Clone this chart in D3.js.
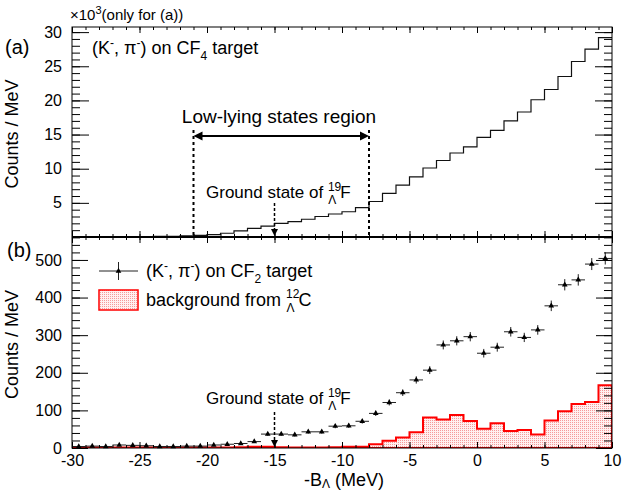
<!DOCTYPE html>
<html>
<head>
<meta charset="utf-8">
<script src="https://cdn.jsdelivr.net/npm/d3@7"></script>
<style>
body { margin: 0; background: #fff; }
text { font-family: "Liberation Sans", Arial, Helvetica, sans-serif; fill: #000; }
</style>
</head>
<body>
<script>
// bin low edges, 1 MeV bins
var binLow = [-30,-29,-28,-27,-26,-25,-24,-23,-22,-21,-20,-19,-18,-17,-16,-15,-14,-13,-12,-11,
              -10,-9,-8,-7,-6,-5,-4,-3,-2,-1,0,1,2,3,4,5,6,7,8,9];
// (a) CF4 spectrum, x10^3 counts / MeV
var cf4Counts = [0.03,0.03,0.04,0.04,0.05,0.06,0.08,0.1,0.18,0.25,0.35,0.55,0.9,1.27,1.6,2.0,2.25,2.6,3.0,3.37,
                 3.7,4.3,5.2,6.4,7.6,8.8,10.1,11.2,12.3,13.2,14.6,15.6,17.0,18.3,20.1,21.6,23.5,25.7,27.5,29.2];
// (b) CF2 spectrum, counts / MeV
var cf2Counts = [4,5,4,8,7,6,4,4,5,5,8,10,12,17,37,37,35,43,43,58,
                 59,71,92,121,147,181,207,274,285,296,252,268,309,294,314,378,434,447,489,504];
var cf2Errors = [1.4,1.6,1.4,2,1.9,1.8,1.4,1.4,1.6,1.6,2,2.3,2.5,3,4.4,4.4,4.3,4.7,4.7,5.5,
                 5.5,6.1,6.9,7.9,8.7,9.7,10.4,11.9,12.2,12.4,11.4,11.8,12.7,12.3,12.8,14,15,15.2,15.9,16.2];
// background from 12C (Lambda)
var bgCounts = [1,1,1,1,1.5,1.5,1,1,1,1,1.5,1.5,2,3,3.5,2,1.5,1.5,1.5,2,
                3,3.5,10,19,28,42,81,76,88,72,51,66,45,48,36,73,98,117,122,167];

var xTicks = [-30,-25,-20,-15,-10,-5,0,5,10];
var topTicks = [5,10,15,20,25,30];
var botTicks = [0,100,200,300,400,500];

var width = 623, height = 491;
var pLeft = 72, pRight = 612, pTop = 27, pMid = 237, pBot = 448;

var svg = d3.select("body").append("svg")
            .attr("width", width)
            .attr("height", height);

var x = d3.scaleLinear().domain([-30, 10]).range([pLeft, pRight]);
var yTop = d3.scaleLinear().domain([0, 30.75]).range([pMid, pTop]);
var yBot = d3.scaleLinear().domain([0, 561]).range([pBot, pMid]);

// dotted pink fill
var defs = svg.append("defs");
var pat = defs.append("pattern").attr("id", "dots")
   .attr("width", 2).attr("height", 2).attr("patternUnits", "userSpaceOnUse");
pat.append("rect").attr("width", 2).attr("height", 2).attr("fill", "#fff0f0");
pat.append("rect").attr("width", 1).attr("height", 1).attr("fill", "#f59a9a");
defs.append("clipPath").attr("id", "clipBot").append("rect")
   .attr("x", pLeft).attr("y", pMid).attr("width", pRight - pLeft).attr("height", pBot - pMid);

// step data: each bin plus closing edge at 10
function steps(vals) {
    var d = binLow.map(function(b, i) { return {x: b, y: vals[i]}; });
    d.push({x: 10, y: vals[vals.length - 1]});
    return d;
}

// ---- (a) histogram
svg.append("path")
   .datum(steps(cf4Counts))
   .attr("fill", "none")
   .attr("stroke", "#111")
   .attr("stroke-width", 1.2)
   .attr("d", d3.line().curve(d3.curveStepAfter)
        .x(function(d) { return x(d.x); })
        .y(function(d) { return yTop(d.y); }));

// ---- (b) background histogram
var bgArea = d3.area().curve(d3.curveStepAfter)
   .x(function(d) { return x(d.x); })
   .y0(yBot(0))
   .y1(function(d) { return yBot(d.y); });
svg.append("path")
   .datum(steps(bgCounts))
   .attr("clip-path", "url(#clipBot)")
   .attr("fill", "url(#dots)")
   .attr("stroke", "#ff0000")
   .attr("stroke-width", 2)
   .attr("d", bgArea);

// ---- (b) data points with error bars
var pts = svg.append("g");
binLow.forEach(function(b, i) {
    var cx = x(b + 0.5), cy = yBot(cf2Counts[i]);
    pts.append("line").attr("x1", x(b)).attr("x2", x(b + 1)).attr("y1", cy).attr("y2", cy)
       .attr("stroke", "#222").attr("stroke-width", 1);
    pts.append("line").attr("x1", cx).attr("x2", cx)
       .attr("y1", yBot(cf2Counts[i] - cf2Errors[i])).attr("y2", yBot(cf2Counts[i] + cf2Errors[i]))
       .attr("stroke", "#222").attr("stroke-width", 1);
    pts.append("path").attr("d", d3.symbol(d3.symbolTriangle, 14)())
       .attr("transform", "translate(" + cx + "," + cy + ")")
       .attr("fill", "#000");
});

// ---- frame and axes
function styleAxis(g) {
    g.select(".domain").remove();
    g.selectAll("line").attr("stroke", "#000");
    g.selectAll("text").attr("font-size", 16).attr("font-family", "Liberation Sans, Arial, sans-serif");
}
function minors(lo, hi, step) {
    var out = [];
    for (var v = lo; v <= hi + 1e-9; v += step) out.push(v);
    return out;
}

// left axes
svg.append("g").attr("transform", "translate(" + pLeft + ",0)")
   .call(d3.axisLeft(yTop).tickValues(topTicks).tickSize(-17).tickPadding(10)).call(styleAxis);
svg.append("g").attr("transform", "translate(" + pLeft + ",0)")
   .call(d3.axisLeft(yTop).tickValues(minors(1, 30, 1)).tickSize(-8).tickFormat("")).call(styleAxis);
svg.append("g").attr("transform", "translate(" + pLeft + ",0)")
   .call(d3.axisLeft(yBot).tickValues(botTicks).tickSize(-16).tickPadding(10)).call(styleAxis);
svg.append("g").attr("transform", "translate(" + pLeft + ",0)")
   .call(d3.axisLeft(yBot).tickValues(minors(20, 560, 20)).tickSize(-8).tickFormat("")).call(styleAxis);
// right axes
svg.append("g").attr("transform", "translate(" + pRight + ",0)")
   .call(d3.axisRight(yTop).tickValues(topTicks).tickSize(-17).tickFormat("")).call(styleAxis);
svg.append("g").attr("transform", "translate(" + pRight + ",0)")
   .call(d3.axisRight(yTop).tickValues(minors(1, 30, 1)).tickSize(-8).tickFormat("")).call(styleAxis);
svg.append("g").attr("transform", "translate(" + pRight + ",0)")
   .call(d3.axisRight(yBot).tickValues(botTicks).tickSize(-16).tickFormat("")).call(styleAxis);
svg.append("g").attr("transform", "translate(" + pRight + ",0)")
   .call(d3.axisRight(yBot).tickValues(minors(20, 560, 20)).tickSize(-8).tickFormat("")).call(styleAxis);

// x axes: top frame, middle (both panels), bottom
var xMinor = minors(-29, 9, 1);
[[pTop, d3.axisTop], [pMid, d3.axisBottom], [pMid, d3.axisTop], [pBot, d3.axisBottom]]
  .forEach(function(a, k) {
    var g = svg.append("g").attr("transform", "translate(0," + a[0] + ")");
    var major = a[1](x).tickValues(xTicks).tickSize(-6);
    if (k === 3) major.tickPadding(6.5).tickFormat(function(d) { return String(d); });
    else major.tickFormat("");
    g.call(major).call(styleAxis);
    svg.append("g").attr("transform", "translate(0," + a[0] + ")")
       .call(a[1](x).tickValues(xMinor).tickSize(-3).tickFormat("")).call(styleAxis);
  });

svg.append("rect").attr("x", pLeft).attr("y", pTop)
   .attr("width", pRight - pLeft).attr("height", pBot - pTop)
   .attr("fill", "none").attr("stroke", "#000").attr("stroke-width", 1);
svg.append("line").attr("x1", pLeft).attr("x2", pRight).attr("y1", pMid).attr("y2", pMid)
   .attr("stroke", "#000").attr("stroke-width", 2);

// ---- text helpers
function rich(xp, yp, size, parts) {
    var t = svg.append("text").attr("x", xp).attr("y", yp).attr("font-size", size);
    parts.forEach(function(p) {
        var s = t.append("tspan").text(p.t);
        if (p.size) s.attr("font-size", p.size);
        if (p.dy) s.attr("dy", p.dy);
        if (p.dx) s.attr("dx", p.dx);
    });
    return t;
}

// axis titles
svg.append("text").attr("transform", "translate(18," + ((pTop + pMid) / 2 + 2) + ") rotate(-90)")
   .attr("text-anchor", "middle").attr("font-size", 18).text("Counts / MeV");
svg.append("text").attr("transform", "translate(18," + ((pMid + pBot) / 2 + 2) + ") rotate(-90)")
   .attr("text-anchor", "middle").attr("font-size", 18).text("Counts / MeV");
rich(344, 486, 18, [{t: "-B"}, {t: "\u039B", size: 12, dy: 2}, {t: " (MeV)", dy: -2}])
   .attr("text-anchor", "middle");

rich(70, 20, 15, [{t: "\u00D710"}, {t: "3", size: 11, dy: -6}, {t: "(only for (a))", dy: 6}]);
svg.append("text").attr("x", 5).attr("y", 54).attr("font-size", 20).text("(a)");
svg.append("text").attr("x", 7).attr("y", 257).attr("font-size", 20).text("(b)");

rich(92, 54, 18, [{t: "(K"}, {t: "-", size: 12, dy: -7}, {t: ", \u03C0", dy: 7},
                  {t: "-", size: 12, dy: -7}, {t: ") on CF", dy: 7},
                  {t: "4", size: 12, dy: 6}, {t: " target", dy: -6}]);

// low-lying states region
[-21, -8].forEach(function(v) {
    svg.append("line").attr("x1", x(v)).attr("x2", x(v)).attr("y1", 130).attr("y2", pMid)
       .attr("stroke", "#000").attr("stroke-width", 2).attr("stroke-dasharray", "3,3");
});
svg.append("line").attr("x1", x(-21) + 6).attr("x2", x(-8) - 6).attr("y1", 136).attr("y2", 136)
   .attr("stroke", "#000").attr("stroke-width", 2);
svg.append("path").attr("d", "M" + x(-21) + ",136 l9,-4.5 l0,9 z").attr("fill", "#000");
svg.append("path").attr("d", "M" + x(-8) + ",136 l-9,-4.5 l0,9 z").attr("fill", "#000");
svg.append("text").attr("x", 279).attr("y", 123).attr("text-anchor", "middle")
   .attr("font-size", 19).text("Low-lying states region");

// ground state markers
function groundState(y0, y1, ty) {
    var gx = x(-15);
    svg.append("line").attr("x1", gx).attr("x2", gx).attr("y1", y0).attr("y2", y1 - 5)
       .attr("stroke", "#000").attr("stroke-width", 1.5).attr("stroke-dasharray", "3,2");
    svg.append("path").attr("d", "M" + gx + "," + y1 + " l-3.5,-7 l7,0 z").attr("fill", "#000");
    rich(206, ty, 17, [{t: "Ground state of  "}, {t: "19", size: 12, dy: -7},
                       {t: "\u039B", size: 12, dx: -13, dy: 13}, {t: "F", dx: 4, dy: -6}]);
}
groundState(203, pMid - 1, 198);
groundState(412, pBot - 1, 404);

// legend
var lg = svg.append("g");
lg.append("line").attr("x1", 99).attr("x2", 138).attr("y1", 271).attr("y2", 271)
  .attr("stroke", "#222").attr("stroke-width", 1);
lg.append("line").attr("x1", 118.5).attr("x2", 118.5).attr("y1", 262).attr("y2", 280)
  .attr("stroke", "#222").attr("stroke-width", 1);
lg.append("path").attr("d", d3.symbol(d3.symbolTriangle, 14)())
  .attr("transform", "translate(118.5,271)").attr("fill", "#000");
rich(146, 277, 18, [{t: "(K"}, {t: "-", size: 12, dy: -7}, {t: ", \u03C0", dy: 7},
                    {t: "-", size: 12, dy: -7}, {t: ") on CF", dy: 7},
                    {t: "2", size: 12, dy: 6}, {t: " target", dy: -6}]);
lg.append("rect").attr("x", 99).attr("y", 290).attr("width", 39).attr("height", 20)
  .attr("fill", "url(#dots)").attr("stroke", "#ff0000").attr("stroke-width", 1.5);
rich(146, 306, 18, [{t: "background from  "}, {t: "12", size: 12, dy: -8},
                    {t: "\u039B", size: 12, dx: -13, dy: 14}, {t: "C", dx: 4, dy: -6}]);
</script>
</body>
</html>
